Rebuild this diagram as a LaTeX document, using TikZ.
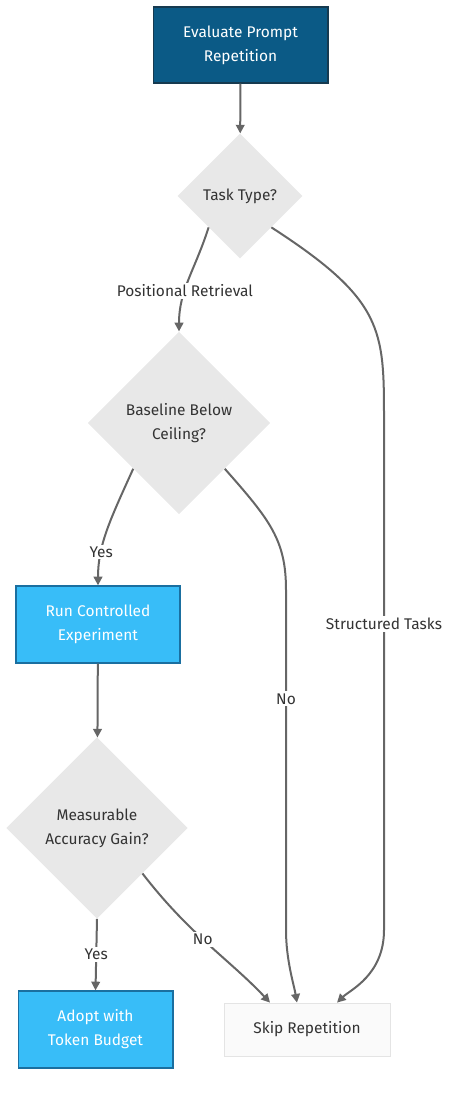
\documentclass[tikz,border=0pt]{standalone}
\usepackage{fontspec}
\setmainfont{Fira Sans}
\usetikzlibrary{positioning, shapes.geometric, arrows.meta, calc}
\definecolor{flowDark}{HTML}{0B5A86}
\definecolor{flowDarkLine}{HTML}{163A50}
\definecolor{flowSky}{HTML}{38BDF8}
\definecolor{flowSkyLine}{HTML}{1A6FA0}
\definecolor{flowGrey}{HTML}{E8E8E8}
\definecolor{flowSkip}{HTML}{FAFAFA}
\definecolor{flowSkipLine}{HTML}{E4E4E4}
\definecolor{flowEdge}{HTML}{666666}
\definecolor{flowText}{HTML}{333333}

\begin{document}
\begin{tikzpicture}[x=0.75pt,y=-0.75pt,
  every node/.style={font=\fontsize{11.6}{18}\selectfont, text=flowText, align=center},
  startbox/.style={draw=flowDarkLine, line width=1pt, fill=flowDark, text=white, minimum width=131pt, minimum height=57pt},
  actbox/.style={draw=flowSkyLine, line width=1pt, fill=flowSky, text=white, minimum height=57.75pt},
  skipbox/.style={draw=flowSkipLine, line width=0.6pt, fill=flowSkip, minimum width=124.5pt, minimum height=39.75pt},
  decide/.style={diamond, aspect=1, fill=flowGrey, inner sep=0pt, minimum size=#1},
  flow/.style={draw=flowEdge, line width=1.5pt, -{Triangle[length=6.5pt,width=6.5pt]}},
  lbl/.style={fill=white, inner sep=1.5pt}]
\useasboundingbox (0,0) rectangle (458,1095);

\node[startbox] (eval) at (240.5,45) {Evaluate Prompt\\Repetition};
\node[decide=93.75pt] (task) at (240,196) {Task Type?};
\node[decide=137pt] (base) at (179,423) {Baseline Below\\Ceiling?};
\node[actbox, minimum width=123pt] (run) at (98,624.5) {Run Controlled\\Experiment};
\node[decide=136pt] (gain) at (97,828) {Measurable\\Accuracy Gain?};
\node[actbox, minimum width=116pt] (adopt) at (95.5,1029.5) {Adopt with\\Token Budget};
\node[skipbox] (skip) at (307,1029.5) {Skip Repetition};

% main line
\draw[flow] (eval) -- (task);
\draw[flow] (task.south west) .. controls (195,270) and (179,290) .. (base.north)
  node[lbl, pos=0.62] {Positional Retrieval};
\draw[flow] (base.south west) .. controls (110,520) and (98,545) .. (run.north)
  node[lbl, pos=0.7] {Yes};
\draw[flow] (run) -- (gain);
\draw[flow] (gain.south) -- (adopt.north) node[lbl, midway] {Yes};

% ways to skip
\draw[flow] (task.south east) .. controls (384,300) and (384,330) .. (384,420)
  -- node[lbl, pos=0.40] {Structured Tasks} (384,930)
  .. controls (384,975) and (350,990) .. ($(skip.north)+(30,0)$);
\draw[flow] (base.south east) .. controls (270,520) and (286,540) .. (286,590)
  -- node[lbl, pos=0.32] {No} (286,930)
  .. controls (286,960) and (294,985) .. ($(skip.north)+(-10,0)$);
\draw[flow] (gain.south east) .. controls (190,935) and (230,960) .. ($(skip.north)+(-37,0)$)
  node[lbl, pos=0.45] {No};
\end{tikzpicture}
\end{document}
